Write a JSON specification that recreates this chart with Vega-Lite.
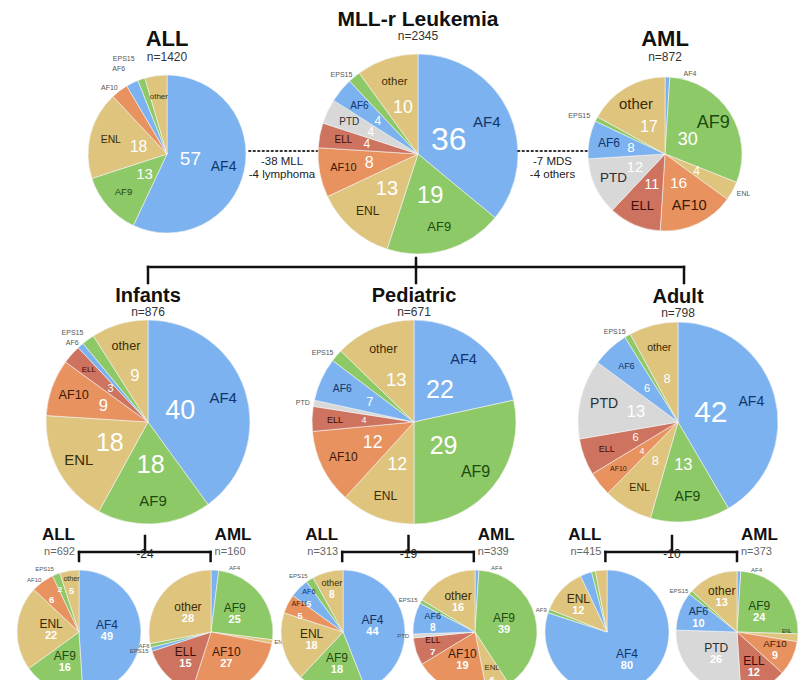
{
"$schema": "https://vega.github.io/schema/vega-lite/v6.json",
"padding": {"top": 8, "left": 0, "right": 0, "bottom": 0},
"config": {"view": {"stroke": null}, "font": "Liberation Sans", "title": {"fontWeight": "bold", "color": "#111111", "subtitleColor": "#333333", "subtitleFontSize": 12, "subtitlePadding": 1, "anchor": "middle", "frame": "group", "font": "Liberation Sans", "subtitleFont": "Liberation Sans"}},
"datasets": {
"segs": [{"seg":"AF4","k":1},{"seg":"AF9","k":2},{"seg":"ENL","k":3},{"seg":"AF10","k":4},{"seg":"ELL","k":5},{"seg":"PTD","k":6},{"seg":"AF6","k":7},{"seg":"EPS15","k":8},{"seg":"other","k":9}],
"bottomTitles": [{"pie":"Infants ALL","t":"ALL","n":"n=692"},{"pie":"Infants AML","t":"AML","n":"n=160"},{"pie":"Pediatric ALL","t":"ALL","n":"n=313"},{"pie":"Pediatric AML","t":"AML","n":"n=339"},{"pie":"Adult ALL","t":"ALL","n":"n=415"},{"pie":"Adult AML","t":"AML","n":"n=373"}],
"brackets": [{"grp":"Infants","from":"Infants ALL","to":"Infants AML","d":"-24"},{"grp":"Pediatric","from":"Pediatric ALL","to":"Pediatric AML","d":"-19"},{"grp":"Adult","from":"Adult ALL","to":"Adult AML","d":"-10"}],
"pies": [
{"pie":"ALL","seg":"AF4","v":57,"num":"57","lab":"AF4"},
{"pie":"ALL","seg":"AF9","v":13,"num":"13","lab":"AF9"},
{"pie":"ALL","seg":"ENL","v":18,"num":"18","lab":"ENL"},
{"pie":"ALL","seg":"AF10","v":3.5,"ext":"AF10"},
{"pie":"ALL","seg":"AF6","v":2.5,"ext":"AF6"},
{"pie":"ALL","seg":"EPS15","v":1.5,"ext":"EPS15"},
{"pie":"ALL","seg":"other","v":4.5,"lab":"other"},
{"pie":"MLL","seg":"AF4","v":36,"num":"36","lab":"AF4"},
{"pie":"MLL","seg":"AF9","v":19,"num":"19","lab":"AF9"},
{"pie":"MLL","seg":"ENL","v":13,"num":"13","lab":"ENL"},
{"pie":"MLL","seg":"AF10","v":8,"num":"8","lab":"AF10"},
{"pie":"MLL","seg":"ELL","v":4,"num":"4","lab":"ELL"},
{"pie":"MLL","seg":"PTD","v":4,"num":"4","lab":"PTD"},
{"pie":"MLL","seg":"AF6","v":4,"num":"4","lab":"AF6"},
{"pie":"MLL","seg":"EPS15","v":2,"ext":"EPS15"},
{"pie":"MLL","seg":"other","v":10,"num":"10","lab":"other"},
{"pie":"AML","seg":"AF4","v":1,"ext":"AF4"},
{"pie":"AML","seg":"AF9","v":30,"num":"30","lab":"AF9"},
{"pie":"AML","seg":"ENL","v":4,"num":"4","ext":"ENL"},
{"pie":"AML","seg":"AF10","v":16,"num":"16","lab":"AF10"},
{"pie":"AML","seg":"ELL","v":11,"num":"11","lab":"ELL"},
{"pie":"AML","seg":"PTD","v":12,"num":"12","lab":"PTD"},
{"pie":"AML","seg":"AF6","v":8,"num":"8","lab":"AF6"},
{"pie":"AML","seg":"EPS15","v":1,"ext":"EPS15"},
{"pie":"AML","seg":"other","v":17,"num":"17","lab":"other"},
{"pie":"Infants","seg":"AF4","v":40,"num":"40","lab":"AF4"},
{"pie":"Infants","seg":"AF9","v":18,"num":"18","lab":"AF9"},
{"pie":"Infants","seg":"ENL","v":18,"num":"18","lab":"ENL"},
{"pie":"Infants","seg":"AF10","v":9,"num":"9","lab":"AF10"},
{"pie":"Infants","seg":"ELL","v":3,"num":"3","lab":"ELL"},
{"pie":"Infants","seg":"AF6","v":1,"ext":"AF6"},
{"pie":"Infants","seg":"EPS15","v":2,"ext":"EPS15"},
{"pie":"Infants","seg":"other","v":9,"num":"9","lab":"other"},
{"pie":"Pediatric","seg":"AF4","v":22,"num":"22","lab":"AF4"},
{"pie":"Pediatric","seg":"AF9","v":29,"num":"29","lab":"AF9"},
{"pie":"Pediatric","seg":"ENL","v":12,"num":"12","lab":"ENL"},
{"pie":"Pediatric","seg":"AF10","v":12,"num":"12","lab":"AF10"},
{"pie":"Pediatric","seg":"ELL","v":4,"num":"4","lab":"ELL"},
{"pie":"Pediatric","seg":"PTD","v":1,"ext":"PTD"},
{"pie":"Pediatric","seg":"AF6","v":7,"num":"7","lab":"AF6"},
{"pie":"Pediatric","seg":"EPS15","v":2,"ext":"EPS15"},
{"pie":"Pediatric","seg":"other","v":13,"num":"13","lab":"other"},
{"pie":"Adult","seg":"AF4","v":42,"num":"42","lab":"AF4"},
{"pie":"Adult","seg":"AF9","v":13,"num":"13","lab":"AF9"},
{"pie":"Adult","seg":"ENL","v":8,"num":"8","lab":"ENL"},
{"pie":"Adult","seg":"AF10","v":4,"num":"4","lab":"AF10"},
{"pie":"Adult","seg":"ELL","v":6,"num":"6","lab":"ELL"},
{"pie":"Adult","seg":"PTD","v":13,"num":"13","lab":"PTD"},
{"pie":"Adult","seg":"AF6","v":6,"num":"6","lab":"AF6"},
{"pie":"Adult","seg":"EPS15","v":1,"ext":"EPS15"},
{"pie":"Adult","seg":"other","v":8,"num":"8","lab":"other"},
{"pie":"Infants ALL","seg":"AF4","v":49,"num":"49","lab":"AF4"},
{"pie":"Infants ALL","seg":"AF9","v":16,"num":"16","lab":"AF9"},
{"pie":"Infants ALL","seg":"ENL","v":22,"num":"22","lab":"ENL"},
{"pie":"Infants ALL","seg":"AF10","v":6,"num":"6","ext":"AF10"},
{"pie":"Infants ALL","seg":"EPS15","v":2,"num":"2","ext":"EPS15"},
{"pie":"Infants ALL","seg":"other","v":5,"num":"5","lab":"other"},
{"pie":"Infants AML","seg":"AF4","v":2,"ext":"AF4"},
{"pie":"Infants AML","seg":"AF9","v":25,"num":"25","lab":"AF9"},
{"pie":"Infants AML","seg":"ENL","v":1,"ext":"ENL"},
{"pie":"Infants AML","seg":"AF10","v":27,"num":"27","lab":"AF10"},
{"pie":"Infants AML","seg":"ELL","v":15,"num":"15","lab":"ELL"},
{"pie":"Infants AML","seg":"AF6","v":1,"ext":"AF6"},
{"pie":"Infants AML","seg":"EPS15","v":1,"ext":"EPS15"},
{"pie":"Infants AML","seg":"other","v":28,"num":"28","lab":"other"},
{"pie":"Pediatric ALL","seg":"AF4","v":44,"num":"44","lab":"AF4"},
{"pie":"Pediatric ALL","seg":"AF9","v":18,"num":"18","lab":"AF9"},
{"pie":"Pediatric ALL","seg":"ENL","v":18,"num":"18","lab":"ENL"},
{"pie":"Pediatric ALL","seg":"AF10","v":5,"num":"5","lab":"AF10"},
{"pie":"Pediatric ALL","seg":"AF6","v":5,"num":"5","lab":"AF6"},
{"pie":"Pediatric ALL","seg":"EPS15","v":2,"ext":"EPS15"},
{"pie":"Pediatric ALL","seg":"other","v":8,"num":"8","lab":"other"},
{"pie":"Pediatric AML","seg":"AF4","v":1,"ext":"AF4"},
{"pie":"Pediatric AML","seg":"AF9","v":39,"num":"39","lab":"AF9"},
{"pie":"Pediatric AML","seg":"ENL","v":6,"num":"6","lab":"ENL"},
{"pie":"Pediatric AML","seg":"AF10","v":19,"num":"19","lab":"AF10"},
{"pie":"Pediatric AML","seg":"ELL","v":7,"num":"7","lab":"ELL"},
{"pie":"Pediatric AML","seg":"PTD","v":1,"ext":"PTD"},
{"pie":"Pediatric AML","seg":"AF6","v":8,"num":"8","lab":"AF6"},
{"pie":"Pediatric AML","seg":"EPS15","v":1,"ext":"EPS15"},
{"pie":"Pediatric AML","seg":"other","v":16,"num":"16","lab":"other"},
{"pie":"Adult ALL","seg":"AF4","v":80,"num":"80","lab":"AF4"},
{"pie":"Adult ALL","seg":"AF9","v":1,"ext":"AF9"},
{"pie":"Adult ALL","seg":"ENL","v":12,"num":"12","lab":"ENL"},
{"pie":"Adult ALL","seg":"AF6","v":3},
{"pie":"Adult ALL","seg":"EPS15","v":1},
{"pie":"Adult ALL","seg":"other","v":3},
{"pie":"Adult AML","seg":"AF4","v":1,"ext":"AF4"},
{"pie":"Adult AML","seg":"AF9","v":24,"num":"24","lab":"AF9"},
{"pie":"Adult AML","seg":"ENL","v":2,"lab":"ENL"},
{"pie":"Adult AML","seg":"AF10","v":9,"num":"9","lab":"AF10"},
{"pie":"Adult AML","seg":"ELL","v":12,"num":"12","lab":"ELL"},
{"pie":"Adult AML","seg":"PTD","v":26,"num":"26","lab":"PTD"},
{"pie":"Adult AML","seg":"AF6","v":10,"num":"10","lab":"AF6"},
{"pie":"Adult AML","seg":"EPS15","v":1,"ext":"EPS15"},
{"pie":"Adult AML","seg":"other","v":13,"num":"13","lab":"other"}
]
},
"spacing": 0,
"vconcat": [
{"hconcat": [
 {"width": 88, "height": 200, "data": {"values": []}, "mark": "text", "encoding": {}},
 {"width": 158, "height": 200,
  "title": {"text": "ALL", "subtitle": "n=1420", "fontSize": 22, "offset": -10},
  "data": {"name": "pies"},
  "transform": [{"filter": {"field": "pie", "equal": "ALL"}}, {"lookup": "seg", "from": {"data": {"name": "segs"}, "key": "seg", "fields": ["k"]}}],
  "encoding": {"theta": {"field": "v", "type": "quantitative", "stack": true}, "order": {"field": "k", "type": "quantitative"}},
  "layer": [
   {"mark": {"type": "arc", "outerRadius": 79, "stroke": "#f4f4f4", "strokeWidth": 0.6}, "encoding": {"color": {"field": "seg", "type": "nominal", "scale": {"domain": ["AF4","AF9","ENL","AF10","ELL","PTD","AF6","EPS15","other"], "range": ["#7bb2ef","#8ec968","#dec47c","#e8935f","#cd735f","#d8d8d8","#7bb2ef","#8ec968","#dec47c"]}, "legend": null}}},
   {"mark": {"type": "text", "fill": "#ffffff"}, "encoding": {"text": {"condition": {"test": "isValid(datum.num)", "field": "num", "type": "nominal"}, "value": ""}, "radius": {"field": "v", "type": "quantitative", "scale": {"type": "linear", "zero": false, "clamp": true, "domain": [13, 57], "range": [30, 24]}}, "size": {"field": "v", "type": "quantitative", "scale": {"type": "sqrt", "zero": false, "clamp": true, "domain": [13, 57], "range": [15, 19]}, "legend": null}}},
   {"mark": {"type": "text", "radius": 58}, "encoding": {"text": {"condition": {"test": "isValid(datum.lab)", "field": "lab", "type": "nominal"}, "value": ""}, "color": {"field": "seg", "type": "nominal", "scale": {"domain": ["AF4","AF9","ENL","AF10","ELL","PTD","AF6","EPS15","other"], "range": ["#12356b","#1c4a0f","#3b2c08","#3d1906","#3d0d06","#2e2e2e","#12356b","#1c4a0f","#3b2c08"]}, "legend": null}, "size": {"field": "v", "type": "quantitative", "scale": {"type": "sqrt", "zero": false, "clamp": true, "domain": [4.5, 57], "range": [8, 14]}, "legend": null}}},
   {"mark": {"type": "text", "align": "right", "fontSize": 7, "fill": "#555555"}, "encoding": {"radius": {"field": "v", "type": "quantitative", "scale": {"type": "linear", "zero": false, "clamp": true, "domain": [1.5, 2.5, 3.5, 4.5], "range": [100, 95, 82, 10]}}, "text": {"condition": {"test": "indexof(['AF9','AF10','PTD','AF6','EPS15'], datum.ext) >= 0", "field": "ext", "type": "nominal"}, "value": ""}}}
  ],
  "resolve": {"scale": {"color": "independent", "size": "independent", "radius": "independent"}}
 },
 {"width": 72, "height": 200, "data": {"values": [{"note": "-38 MLL\n-4 lymphoma"}]},
  "layer": [
   {"mark": {"type": "rule", "strokeDash": [1.5, 3], "strokeWidth": 1.8, "strokeCap": "round", "color": "#333333"}, "encoding": {"y": {"datum": 103, "type": "quantitative", "scale": {"domain": [0, 200]}, "axis": null}}},
   {"mark": {"type": "text", "lineBreak": "\n", "baseline": "top", "fontSize": 11.5, "lineHeight": 13, "fill": "#222222"}, "encoding": {"text": {"field": "note", "type": "nominal"}, "y": {"datum": 98, "type": "quantitative", "scale": {"domain": [0, 200]}, "axis": null}}}
  ]
 },
 {"width": 200, "height": 200,
  "title": {"text": "MLL-r Leukemia", "subtitle": "n=2345", "fontSize": 21, "offset": 11},
  "data": {"name": "pies"},
  "transform": [{"filter": {"field": "pie", "equal": "MLL"}}, {"lookup": "seg", "from": {"data": {"name": "segs"}, "key": "seg", "fields": ["k"]}}],
  "encoding": {"theta": {"field": "v", "type": "quantitative", "stack": true}, "order": {"field": "k", "type": "quantitative"}},
  "layer": [
   {"mark": {"type": "arc", "outerRadius": 100, "stroke": "#f4f4f4", "strokeWidth": 0.6}, "encoding": {"color": {"field": "seg", "type": "nominal", "scale": {"domain": ["AF4","AF9","ENL","AF10","ELL","PTD","AF6","EPS15","other"], "range": ["#7bb2ef","#8ec968","#dec47c","#e8935f","#cd735f","#d8d8d8","#7bb2ef","#8ec968","#dec47c"]}, "legend": null}}},
   {"mark": {"type": "text", "fill": "#ffffff"}, "encoding": {"text": {"condition": {"test": "isValid(datum.num)", "field": "num", "type": "nominal"}, "value": ""}, "radius": {"field": "v", "type": "quantitative", "scale": {"type": "linear", "zero": false, "clamp": true, "domain": [4, 36], "range": [52, 34]}}, "size": {"field": "v", "type": "quantitative", "scale": {"type": "sqrt", "zero": false, "clamp": true, "domain": [4, 36], "range": [12, 32]}, "legend": null}}},
   {"mark": {"type": "text", "radius": 76}, "encoding": {"text": {"condition": {"test": "isValid(datum.lab)", "field": "lab", "type": "nominal"}, "value": ""}, "color": {"field": "seg", "type": "nominal", "scale": {"domain": ["AF4","AF9","ENL","AF10","ELL","PTD","AF6","EPS15","other"], "range": ["#12356b","#1c4a0f","#3b2c08","#3d1906","#3d0d06","#2e2e2e","#12356b","#1c4a0f","#3b2c08"]}, "legend": null}, "size": {"field": "v", "type": "quantitative", "scale": {"type": "sqrt", "zero": false, "clamp": true, "domain": [4, 36], "range": [10, 15]}, "legend": null}}},
   {"mark": {"type": "text", "align": "right", "fontSize": 7, "fill": "#555555"}, "encoding": {"radius": {"field": "v", "type": "quantitative", "scale": {"type": "linear", "zero": false, "clamp": true, "domain": [2, 4], "range": [103, 10]}}, "text": {"condition": {"test": "indexof(['AF9','AF10','PTD','AF6','EPS15'], datum.ext) >= 0", "field": "ext", "type": "nominal"}, "value": ""}}}
  ],
  "resolve": {"scale": {"color": "independent", "size": "independent", "radius": "independent"}}
 },
 {"width": 69, "height": 200, "data": {"values": [{"note": "-7 MDS\n-4 others"}]},
  "layer": [
   {"mark": {"type": "rule", "strokeDash": [1.5, 3], "strokeWidth": 1.8, "strokeCap": "round", "color": "#333333"}, "encoding": {"y": {"datum": 103, "type": "quantitative", "scale": {"domain": [0, 200]}, "axis": null}}},
   {"mark": {"type": "text", "lineBreak": "\n", "baseline": "top", "fontSize": 11.5, "lineHeight": 13, "fill": "#222222"}, "encoding": {"text": {"field": "note", "type": "nominal"}, "y": {"datum": 98, "type": "quantitative", "scale": {"domain": [0, 200]}, "axis": null}}}
  ]
 },
 {"width": 156, "height": 200,
  "title": {"text": "AML", "subtitle": "n=872", "fontSize": 22, "offset": -10},
  "data": {"name": "pies"},
  "transform": [{"filter": {"field": "pie", "equal": "AML"}}, {"lookup": "seg", "from": {"data": {"name": "segs"}, "key": "seg", "fields": ["k"]}}],
  "encoding": {"theta": {"field": "v", "type": "quantitative", "stack": true}, "order": {"field": "k", "type": "quantitative"}},
  "layer": [
   {"mark": {"type": "arc", "outerRadius": 77, "stroke": "#f4f4f4", "strokeWidth": 0.6}, "encoding": {"color": {"field": "seg", "type": "nominal", "scale": {"domain": ["AF4","AF9","ENL","AF10","ELL","PTD","AF6","EPS15","other"], "range": ["#7bb2ef","#8ec968","#dec47c","#e8935f","#cd735f","#d8d8d8","#7bb2ef","#8ec968","#dec47c"]}, "legend": null}}},
   {"mark": {"type": "text", "fill": "#ffffff"}, "encoding": {"text": {"condition": {"test": "isValid(datum.num)", "field": "num", "type": "nominal"}, "value": ""}, "radius": {"field": "v", "type": "quantitative", "scale": {"type": "linear", "zero": false, "clamp": true, "domain": [4, 30], "range": [36, 27]}}, "size": {"field": "v", "type": "quantitative", "scale": {"type": "sqrt", "zero": false, "clamp": true, "domain": [4, 30], "range": [12, 18]}, "legend": null}}},
   {"mark": {"type": "text", "radius": 57}, "encoding": {"text": {"condition": {"test": "isValid(datum.lab)", "field": "lab", "type": "nominal"}, "value": ""}, "color": {"field": "seg", "type": "nominal", "scale": {"domain": ["AF4","AF9","ENL","AF10","ELL","PTD","AF6","EPS15","other"], "range": ["#12356b","#1c4a0f","#3b2c08","#3d1906","#3d0d06","#2e2e2e","#12356b","#1c4a0f","#3b2c08"]}, "legend": null}, "size": {"field": "v", "type": "quantitative", "scale": {"type": "sqrt", "zero": false, "clamp": true, "domain": [8, 30], "range": [12, 18]}, "legend": null}}},
   {"mark": {"type": "text", "align": "right", "fontSize": 7, "fill": "#555555"}, "encoding": {"radius": {"field": "v", "type": "quantitative", "scale": {"type": "linear", "zero": false, "clamp": true, "domain": [4, 8], "range": [84, 10]}}, "text": {"condition": {"test": "indexof(['AF9','AF10','PTD','AF6','EPS15'], datum.ext) >= 0", "field": "ext", "type": "nominal"}, "value": ""}}},
   {"mark": {"type": "text", "align": "left", "fontSize": 7, "fill": "#555555"}, "encoding": {"radius": {"field": "v", "type": "quantitative", "scale": {"type": "linear", "zero": false, "clamp": true, "domain": [4, 8], "range": [82, 10]}}, "text": {"condition": {"test": "datum.ext == 'ENL'", "field": "ext", "type": "nominal"}, "value": ""}}},
   {"transform": [{"filter": "datum.seg == 'AF4' && isValid(datum.ext)"}], "mark": {"type": "text", "radius": 80, "align": "left", "dx": 16, "fontSize": 7, "fill": "#555555"}, "encoding": {"text": {"field": "ext", "type": "nominal"}}}
  ],
  "resolve": {"scale": {"color": "independent", "size": "independent", "radius": "independent"}}
 }
], "spacing": 0, "bounds": "flush"},
{"width": 803, "height": 25,
 "layer": [
  {"data": {"values": [{"grp": "Infants"}, {"grp": "Pediatric"}, {"grp": "Adult"}]}, "mark": {"type": "rule", "strokeWidth": 2.5, "color": "#111111", "strokeCap": "square"}, "encoding": {"x": {"field": "grp", "type": "nominal", "scale": {"type": "point", "padding": 0, "domain": ["Infants", "Pediatric", "Adult"], "range": [148, 684]}, "axis": null}, "y": {"datum": 16, "type": "quantitative", "scale": {"domain": [0, 25]}, "axis": null}, "y2": {"datum": 0}}},
  {"data": {"values": [{"from": "Infants", "to": "Adult"}]}, "mark": {"type": "rule", "strokeWidth": 2.5, "color": "#111111", "strokeCap": "square"}, "encoding": {"x": {"field": "from", "type": "nominal", "scale": {"type": "point", "padding": 0, "domain": ["Infants", "Pediatric", "Adult"], "range": [148, 684]}, "axis": null}, "x2": {"field": "to"}, "y": {"datum": 16, "type": "quantitative", "scale": {"domain": [0, 25]}, "axis": null}}},
  {"data": {"values": [{"grp": "Pediatric"}]}, "mark": {"type": "rule", "strokeWidth": 2.5, "color": "#111111", "strokeCap": "square"}, "encoding": {"x": {"field": "grp", "type": "nominal", "scale": {"type": "point", "padding": 0, "domain": ["Infants", "Pediatric", "Adult"], "range": [148, 684]}, "axis": null}, "y": {"datum": 25, "type": "quantitative", "scale": {"domain": [0, 25]}, "axis": null}, "y2": {"datum": 16}}}
 ]
},
{"hconcat": [
 {"width": 46, "height": 204, "data": {"values": []}, "mark": "text", "encoding": {}},
 {"width": 204, "height": 204,
  "title": {"text": "Infants", "subtitle": "n=876", "fontSize": 20, "offset": 1},
  "data": {"name": "pies"},
  "transform": [{"filter": {"field": "pie", "equal": "Infants"}}, {"lookup": "seg", "from": {"data": {"name": "segs"}, "key": "seg", "fields": ["k"]}}],
  "encoding": {"theta": {"field": "v", "type": "quantitative", "stack": true}, "order": {"field": "k", "type": "quantitative"}},
  "layer": [
   {"mark": {"type": "arc", "outerRadius": 102, "stroke": "#f4f4f4", "strokeWidth": 0.6}, "encoding": {"color": {"field": "seg", "type": "nominal", "scale": {"domain": ["AF4","AF9","ENL","AF10","ELL","PTD","AF6","EPS15","other"], "range": ["#7bb2ef","#8ec968","#dec47c","#e8935f","#cd735f","#d8d8d8","#7bb2ef","#8ec968","#dec47c"]}, "legend": null}}},
   {"mark": {"type": "text", "fill": "#ffffff"}, "encoding": {"text": {"condition": {"test": "isValid(datum.num)", "field": "num", "type": "nominal"}, "value": ""}, "radius": {"field": "v", "type": "quantitative", "scale": {"type": "linear", "zero": false, "clamp": true, "domain": [3, 40], "range": [50, 34]}}, "size": {"field": "v", "type": "quantitative", "scale": {"type": "linear", "zero": false, "clamp": true, "domain": [3, 20], "range": [11, 27]}, "legend": null}}},
   {"mark": {"type": "text", "radius": 79}, "encoding": {"text": {"condition": {"test": "isValid(datum.lab)", "field": "lab", "type": "nominal"}, "value": ""}, "color": {"field": "seg", "type": "nominal", "scale": {"domain": ["AF4","AF9","ENL","AF10","ELL","PTD","AF6","EPS15","other"], "range": ["#12356b","#1c4a0f","#3b2c08","#3d1906","#3d0d06","#2e2e2e","#12356b","#1c4a0f","#3b2c08"]}, "legend": null}, "size": {"field": "v", "type": "quantitative", "scale": {"type": "linear", "zero": false, "clamp": true, "domain": [3, 12], "range": [8, 15]}, "legend": null}}},
   {"mark": {"type": "text", "align": "right", "fontSize": 7, "fill": "#555555"}, "encoding": {"radius": {"field": "v", "type": "quantitative", "scale": {"type": "linear", "zero": false, "clamp": true, "domain": [1, 2, 3], "range": [105, 110, 10]}}, "text": {"condition": {"test": "indexof(['AF9','AF10','PTD','AF6','EPS15'], datum.ext) >= 0", "field": "ext", "type": "nominal"}, "value": ""}}}
  ],
  "resolve": {"scale": {"color": "independent", "size": "independent", "radius": "independent"}}
 },
 {"width": 62, "height": 204, "data": {"values": []}, "mark": "text", "encoding": {}},
 {"width": 204, "height": 204,
  "title": {"text": "Pediatric", "subtitle": "n=671", "fontSize": 20, "offset": 1},
  "data": {"name": "pies"},
  "transform": [{"filter": {"field": "pie", "equal": "Pediatric"}}, {"lookup": "seg", "from": {"data": {"name": "segs"}, "key": "seg", "fields": ["k"]}}],
  "encoding": {"theta": {"field": "v", "type": "quantitative", "stack": true}, "order": {"field": "k", "type": "quantitative"}},
  "layer": [
   {"mark": {"type": "arc", "outerRadius": 102, "stroke": "#f4f4f4", "strokeWidth": 0.6}, "encoding": {"color": {"field": "seg", "type": "nominal", "scale": {"domain": ["AF4","AF9","ENL","AF10","ELL","PTD","AF6","EPS15","other"], "range": ["#7bb2ef","#8ec968","#dec47c","#e8935f","#cd735f","#d8d8d8","#7bb2ef","#8ec968","#dec47c"]}, "legend": null}}},
   {"mark": {"type": "text", "fill": "#ffffff"}, "encoding": {"text": {"condition": {"test": "isValid(datum.num)", "field": "num", "type": "nominal"}, "value": ""}, "radius": {"field": "v", "type": "quantitative", "scale": {"type": "linear", "zero": false, "clamp": true, "domain": [4, 29], "range": [50, 38]}}, "size": {"field": "v", "type": "quantitative", "scale": {"type": "sqrt", "zero": false, "clamp": true, "domain": [4, 22], "range": [9, 25]}, "legend": null}}},
   {"mark": {"type": "text", "radius": 79}, "encoding": {"text": {"condition": {"test": "isValid(datum.lab)", "field": "lab", "type": "nominal"}, "value": ""}, "color": {"field": "seg", "type": "nominal", "scale": {"domain": ["AF4","AF9","ENL","AF10","ELL","PTD","AF6","EPS15","other"], "range": ["#12356b","#1c4a0f","#3b2c08","#3d1906","#3d0d06","#2e2e2e","#12356b","#1c4a0f","#3b2c08"]}, "legend": null}, "size": {"field": "v", "type": "quantitative", "scale": {"type": "sqrt", "zero": false, "clamp": true, "domain": [4, 29], "range": [9, 16]}, "legend": null}}},
   {"mark": {"type": "text", "align": "right", "fontSize": 7, "fill": "#555555"}, "encoding": {"radius": {"field": "v", "type": "quantitative", "scale": {"type": "linear", "zero": false, "clamp": true, "domain": [2, 4], "range": [106, 10]}}, "text": {"condition": {"test": "indexof(['AF9','AF10','PTD','AF6','EPS15'], datum.ext) >= 0", "field": "ext", "type": "nominal"}, "value": ""}}}
  ],
  "resolve": {"scale": {"color": "independent", "size": "independent", "radius": "independent"}}
 },
 {"width": 62, "height": 204, "data": {"values": []}, "mark": "text", "encoding": {}},
 {"width": 200, "height": 204,
  "title": {"text": "Adult", "subtitle": "n=798", "fontSize": 20, "offset": 1},
  "data": {"name": "pies"},
  "transform": [{"filter": {"field": "pie", "equal": "Adult"}}, {"lookup": "seg", "from": {"data": {"name": "segs"}, "key": "seg", "fields": ["k"]}}],
  "encoding": {"theta": {"field": "v", "type": "quantitative", "stack": true}, "order": {"field": "k", "type": "quantitative"}},
  "layer": [
   {"mark": {"type": "arc", "outerRadius": 100, "stroke": "#f4f4f4", "strokeWidth": 0.6}, "encoding": {"color": {"field": "seg", "type": "nominal", "scale": {"domain": ["AF4","AF9","ENL","AF10","ELL","PTD","AF6","EPS15","other"], "range": ["#7bb2ef","#8ec968","#dec47c","#e8935f","#cd735f","#d8d8d8","#7bb2ef","#8ec968","#dec47c"]}, "legend": null}}},
   {"mark": {"type": "text", "fill": "#ffffff"}, "encoding": {"text": {"condition": {"test": "isValid(datum.num)", "field": "num", "type": "nominal"}, "value": ""}, "radius": {"field": "v", "type": "quantitative", "scale": {"type": "linear", "zero": false, "clamp": true, "domain": [4, 42], "range": [46, 34]}}, "size": {"field": "v", "type": "quantitative", "scale": {"type": "sqrt", "zero": false, "clamp": true, "domain": [4, 42], "range": [9, 30]}, "legend": null}}},
   {"mark": {"type": "text", "radius": 76}, "encoding": {"text": {"condition": {"test": "isValid(datum.lab)", "field": "lab", "type": "nominal"}, "value": ""}, "color": {"field": "seg", "type": "nominal", "scale": {"domain": ["AF4","AF9","ENL","AF10","ELL","PTD","AF6","EPS15","other"], "range": ["#12356b","#1c4a0f","#3b2c08","#3d1906","#3d0d06","#2e2e2e","#12356b","#1c4a0f","#3b2c08"]}, "legend": null}, "size": {"field": "v", "type": "quantitative", "scale": {"type": "sqrt", "zero": false, "clamp": true, "domain": [4, 13], "range": [7, 14]}, "legend": null}}},
   {"mark": {"type": "text", "align": "right", "fontSize": 7, "fill": "#555555"}, "encoding": {"radius": {"field": "v", "type": "quantitative", "scale": {"type": "linear", "zero": false, "clamp": true, "domain": [1, 4], "range": [104, 10]}}, "text": {"condition": {"test": "indexof(['AF9','AF10','PTD','AF6','EPS15'], datum.ext) >= 0", "field": "ext", "type": "nominal"}, "value": ""}}}
  ],
  "resolve": {"scale": {"color": "independent", "size": "independent", "radius": "independent"}}
 }
], "spacing": 0, "bounds": "flush"},
{"width": 803, "height": 33,
 "layer": [
  {"data": {"name": "bottomTitles"}, "transform": [{"filter": "datum.t == 'ALL'"}], "mark": {"type": "text", "align": "right", "dx": -4, "fontSize": 17, "fontWeight": "bold", "fill": "#111111", "baseline": "alphabetic"}, "encoding": {"x": {"field": "pie", "type": "nominal", "scale": {"type": "point", "padding": 0, "domain": ["Infants ALL","Infants AML","Pediatric ALL","Pediatric AML","Adult ALL","Adult AML"], "range": [79, 737]}, "axis": null}, "y": {"datum": 21, "type": "quantitative", "scale": {"domain": [0, 33]}, "axis": null}, "text": {"field": "t", "type": "nominal"}}},
  {"data": {"name": "bottomTitles"}, "transform": [{"filter": "datum.t == 'ALL'"}], "mark": {"type": "text", "align": "right", "dx": -4, "fontSize": 11, "fill": "#666666", "baseline": "alphabetic"}, "encoding": {"x": {"field": "pie", "type": "nominal", "scale": {"type": "point", "padding": 0, "domain": ["Infants ALL","Infants AML","Pediatric ALL","Pediatric AML","Adult ALL","Adult AML"], "range": [79, 737]}, "axis": null}, "y": {"datum": 6, "type": "quantitative", "scale": {"domain": [0, 33]}, "axis": null}, "text": {"field": "n", "type": "nominal"}}},
  {"data": {"name": "bottomTitles"}, "transform": [{"filter": "datum.t == 'AML'"}], "mark": {"type": "text", "align": "left", "dx": 4, "fontSize": 17, "fontWeight": "bold", "fill": "#111111", "baseline": "alphabetic"}, "encoding": {"x": {"field": "pie", "type": "nominal", "scale": {"type": "point", "padding": 0, "domain": ["Infants ALL","Infants AML","Pediatric ALL","Pediatric AML","Adult ALL","Adult AML"], "range": [79, 737]}, "axis": null}, "y": {"datum": 21, "type": "quantitative", "scale": {"domain": [0, 33]}, "axis": null}, "text": {"field": "t", "type": "nominal"}}},
  {"data": {"name": "bottomTitles"}, "transform": [{"filter": "datum.t == 'AML'"}], "mark": {"type": "text", "align": "left", "dx": 4, "fontSize": 11, "fill": "#666666", "baseline": "alphabetic"}, "encoding": {"x": {"field": "pie", "type": "nominal", "scale": {"type": "point", "padding": 0, "domain": ["Infants ALL","Infants AML","Pediatric ALL","Pediatric AML","Adult ALL","Adult AML"], "range": [79, 737]}, "axis": null}, "y": {"datum": 6, "type": "quantitative", "scale": {"domain": [0, 33]}, "axis": null}, "text": {"field": "n", "type": "nominal"}}},
  {"data": {"name": "brackets"}, "mark": {"type": "rule", "strokeWidth": 2.5, "color": "#111111", "strokeCap": "square"}, "encoding": {"x": {"field": "from", "type": "nominal", "scale": {"type": "point", "padding": 0, "domain": ["Infants ALL","Infants AML","Pediatric ALL","Pediatric AML","Adult ALL","Adult AML"], "range": [79, 737]}, "axis": null}, "x2": {"field": "to"}, "y": {"datum": 9, "type": "quantitative", "scale": {"domain": [0, 33]}, "axis": null}}},
  {"data": {"name": "bottomTitles"}, "mark": {"type": "rule", "strokeWidth": 2.5, "color": "#111111", "strokeCap": "square"}, "encoding": {"x": {"field": "pie", "type": "nominal", "scale": {"type": "point", "padding": 0, "domain": ["Infants ALL","Infants AML","Pediatric ALL","Pediatric AML","Adult ALL","Adult AML"], "range": [79, 737]}, "axis": null}, "y": {"datum": 9, "type": "quantitative", "scale": {"domain": [0, 33]}, "axis": null}, "y2": {"datum": 0}}},
  {"data": {"name": "brackets"}, "mark": {"type": "rule", "strokeWidth": 2.5, "color": "#111111", "strokeCap": "square"}, "encoding": {"x": {"field": "grp", "type": "nominal", "scale": {"type": "point", "padding": 0, "domain": ["Infants", "Pediatric", "Adult"], "range": [145, 672]}, "axis": null}, "y": {"datum": 25, "type": "quantitative", "scale": {"domain": [0, 33]}, "axis": null}, "y2": {"datum": 9}}},
  {"data": {"name": "brackets"}, "mark": {"type": "text", "fontSize": 12, "fill": "#222222", "baseline": "bottom"}, "encoding": {"x": {"field": "grp", "type": "nominal", "scale": {"type": "point", "padding": 0, "domain": ["Infants", "Pediatric", "Adult"], "range": [145, 672]}, "axis": null}, "y": {"datum": 0, "type": "quantitative", "scale": {"domain": [0, 33]}, "axis": null}, "text": {"field": "d", "type": "nominal"}}}
 ],
 "resolve": {"scale": {"x": "independent"}}
},
{"hconcat": [
 {"width": 13, "height": 126, "data": {"values": []}, "mark": "text", "encoding": {}},
 {"width": 132, "height": 126, "data": {"name": "pies"},
  "transform": [{"filter": {"field": "pie", "equal": "Infants ALL"}}, {"lookup": "seg", "from": {"data": {"name": "segs"}, "key": "seg", "fields": ["k"]}}],
  "encoding": {"theta": {"field": "v", "type": "quantitative", "stack": true}, "order": {"field": "k", "type": "quantitative"}},
  "layer": [
   {"mark": {"type": "arc", "outerRadius": 62, "stroke": "#f4f4f4", "strokeWidth": 0.6}, "encoding": {"color": {"field": "seg", "type": "nominal", "scale": {"domain": ["AF4","AF9","ENL","AF10","ELL","PTD","AF6","EPS15","other"], "range": ["#7bb2ef","#8ec968","#dec47c","#e8935f","#cd735f","#d8d8d8","#7bb2ef","#8ec968","#dec47c"]}, "legend": null}}},
   {"mark": {"type": "text", "dy": -6}, "encoding": {"text": {"condition": {"test": "isValid(datum.lab)", "field": "lab", "type": "nominal"}, "value": ""}, "radius": {"field": "v", "type": "quantitative", "scale": {"type": "linear", "zero": false, "clamp": true, "domain": [2, 20], "range": [52, 28]}}, "color": {"field": "seg", "type": "nominal", "scale": {"domain": ["AF4","AF9","ENL","AF10","ELL","PTD","AF6","EPS15","other"], "range": ["#12356b","#1c4a0f","#3b2c08","#3d1906","#3d0d06","#2e2e2e","#12356b","#1c4a0f","#3b2c08"]}, "legend": null}, "size": {"field": "v", "type": "quantitative", "scale": {"type": "linear", "zero": false, "clamp": true, "domain": [2, 12], "range": [5, 12]}, "legend": null}}},
   {"mark": {"type": "text", "dy": 6, "fill": "#ffffff", "fontWeight": "bold"}, "encoding": {"text": {"condition": {"test": "isValid(datum.num)", "field": "num", "type": "nominal"}, "value": ""}, "radius": {"field": "v", "type": "quantitative", "scale": {"type": "linear", "zero": false, "clamp": true, "domain": [2, 20], "range": [52, 28]}}, "size": {"field": "v", "type": "quantitative", "scale": {"type": "linear", "zero": false, "clamp": true, "domain": [2, 10], "range": [8, 11]}, "legend": null}}},
   {"mark": {"type": "text", "align": "right", "fontSize": 6, "fill": "#555555"}, "encoding": {"radius": {"field": "v", "type": "quantitative", "scale": {"type": "linear", "zero": false, "clamp": true, "domain": [2, 4, 5, 5.5, 6, 7], "range": [68, 40, 10, 40, 64, 10]}}, "text": {"condition": {"test": "indexof(['AF9','AF10','PTD','AF6','EPS15'], datum.ext) >= 0", "field": "ext", "type": "nominal"}, "value": ""}}}
  ],
  "resolve": {"scale": {"color": "independent", "size": "independent", "radius": "independent"}}
 },
 {"width": 132, "height": 126, "data": {"name": "pies"},
  "transform": [{"filter": {"field": "pie", "equal": "Infants AML"}}, {"lookup": "seg", "from": {"data": {"name": "segs"}, "key": "seg", "fields": ["k"]}}],
  "encoding": {"theta": {"field": "v", "type": "quantitative", "stack": true}, "order": {"field": "k", "type": "quantitative"}},
  "layer": [
   {"mark": {"type": "arc", "outerRadius": 62, "stroke": "#f4f4f4", "strokeWidth": 0.6}, "encoding": {"color": {"field": "seg", "type": "nominal", "scale": {"domain": ["AF4","AF9","ENL","AF10","ELL","PTD","AF6","EPS15","other"], "range": ["#7bb2ef","#8ec968","#dec47c","#e8935f","#cd735f","#d8d8d8","#7bb2ef","#8ec968","#dec47c"]}, "legend": null}}},
   {"mark": {"type": "text", "dy": -6}, "encoding": {"text": {"condition": {"test": "isValid(datum.lab)", "field": "lab", "type": "nominal"}, "value": ""}, "radius": {"field": "v", "type": "quantitative", "scale": {"type": "linear", "zero": false, "clamp": true, "domain": [2, 20], "range": [52, 30]}}, "color": {"field": "seg", "type": "nominal", "scale": {"domain": ["AF4","AF9","ENL","AF10","ELL","PTD","AF6","EPS15","other"], "range": ["#12356b","#1c4a0f","#3b2c08","#3d1906","#3d0d06","#2e2e2e","#12356b","#1c4a0f","#3b2c08"]}, "legend": null}, "size": {"field": "v", "type": "quantitative", "scale": {"type": "linear", "zero": false, "clamp": true, "domain": [2, 12], "range": [5, 12]}, "legend": null}}},
   {"mark": {"type": "text", "dy": 6, "fill": "#ffffff", "fontWeight": "bold"}, "encoding": {"text": {"condition": {"test": "isValid(datum.num)", "field": "num", "type": "nominal"}, "value": ""}, "radius": {"field": "v", "type": "quantitative", "scale": {"type": "linear", "zero": false, "clamp": true, "domain": [2, 20], "range": [52, 30]}}, "size": {"field": "v", "type": "quantitative", "scale": {"type": "linear", "zero": false, "clamp": true, "domain": [2, 10], "range": [8, 11]}, "legend": null}}},
   {"mark": {"type": "text", "align": "right", "dy": -4, "fontSize": 6, "fill": "#555555"}, "encoding": {"radius": {"field": "v", "type": "quantitative", "scale": {"type": "linear", "zero": false, "clamp": true, "domain": [1, 2], "range": [64, 10]}}, "text": {"condition": {"test": "indexof(['AF9','AF10','PTD','AF6'], datum.ext) >= 0", "field": "ext", "type": "nominal"}, "value": ""}}},
   {"mark": {"type": "text", "align": "right", "dy": 5, "fontSize": 6, "fill": "#555555"}, "encoding": {"radius": {"field": "v", "type": "quantitative", "scale": {"type": "linear", "zero": false, "clamp": true, "domain": [1, 2], "range": [64, 10]}}, "text": {"condition": {"test": "datum.ext == 'EPS15'", "field": "ext", "type": "nominal"}, "value": ""}}},
   {"mark": {"type": "text", "align": "left", "fontSize": 6, "fill": "#555555"}, "encoding": {"radius": {"field": "v", "type": "quantitative", "scale": {"type": "linear", "zero": false, "clamp": true, "domain": [1, 2], "range": [64, 10]}}, "text": {"condition": {"test": "datum.ext == 'ENL'", "field": "ext", "type": "nominal"}, "value": ""}}},
   {"transform": [{"filter": "datum.seg == 'AF4' && isValid(datum.ext)"}], "mark": {"type": "text", "radius": 64, "align": "left", "dx": 14, "fontSize": 6, "fill": "#555555"}, "encoding": {"text": {"field": "ext", "type": "nominal"}}}
  ],
  "resolve": {"scale": {"color": "independent", "size": "independent", "radius": "independent"}}
 },
 {"width": 132, "height": 126, "data": {"name": "pies"},
  "transform": [{"filter": {"field": "pie", "equal": "Pediatric ALL"}}, {"lookup": "seg", "from": {"data": {"name": "segs"}, "key": "seg", "fields": ["k"]}}],
  "encoding": {"theta": {"field": "v", "type": "quantitative", "stack": true}, "order": {"field": "k", "type": "quantitative"}},
  "layer": [
   {"mark": {"type": "arc", "outerRadius": 62, "stroke": "#f4f4f4", "strokeWidth": 0.6}, "encoding": {"color": {"field": "seg", "type": "nominal", "scale": {"domain": ["AF4","AF9","ENL","AF10","ELL","PTD","AF6","EPS15","other"], "range": ["#7bb2ef","#8ec968","#dec47c","#e8935f","#cd735f","#d8d8d8","#7bb2ef","#8ec968","#dec47c"]}, "legend": null}}},
   {"mark": {"type": "text", "dy": -6}, "encoding": {"text": {"condition": {"test": "isValid(datum.lab)", "field": "lab", "type": "nominal"}, "value": ""}, "radius": {"field": "v", "type": "quantitative", "scale": {"type": "linear", "zero": false, "clamp": true, "domain": [2, 20], "range": [52, 30]}}, "color": {"field": "seg", "type": "nominal", "scale": {"domain": ["AF4","AF9","ENL","AF10","ELL","PTD","AF6","EPS15","other"], "range": ["#12356b","#1c4a0f","#3b2c08","#3d1906","#3d0d06","#2e2e2e","#12356b","#1c4a0f","#3b2c08"]}, "legend": null}, "size": {"field": "v", "type": "quantitative", "scale": {"type": "linear", "zero": false, "clamp": true, "domain": [2, 12], "range": [5, 12]}, "legend": null}}},
   {"mark": {"type": "text", "dy": 6, "fill": "#ffffff", "fontWeight": "bold"}, "encoding": {"text": {"condition": {"test": "isValid(datum.num)", "field": "num", "type": "nominal"}, "value": ""}, "radius": {"field": "v", "type": "quantitative", "scale": {"type": "linear", "zero": false, "clamp": true, "domain": [2, 20], "range": [52, 30]}}, "size": {"field": "v", "type": "quantitative", "scale": {"type": "linear", "zero": false, "clamp": true, "domain": [2, 10], "range": [8, 11]}, "legend": null}}},
   {"mark": {"type": "text", "align": "right", "fontSize": 6, "fill": "#555555"}, "encoding": {"radius": {"field": "v", "type": "quantitative", "scale": {"type": "linear", "zero": false, "clamp": true, "domain": [2, 4], "range": [66, 10]}}, "text": {"condition": {"test": "indexof(['AF9','AF10','PTD','AF6','EPS15'], datum.ext) >= 0", "field": "ext", "type": "nominal"}, "value": ""}}}
  ],
  "resolve": {"scale": {"color": "independent", "size": "independent", "radius": "independent"}}
 },
 {"width": 132, "height": 126, "data": {"name": "pies"},
  "transform": [{"filter": {"field": "pie", "equal": "Pediatric AML"}}, {"lookup": "seg", "from": {"data": {"name": "segs"}, "key": "seg", "fields": ["k"]}}],
  "encoding": {"theta": {"field": "v", "type": "quantitative", "stack": true}, "order": {"field": "k", "type": "quantitative"}},
  "layer": [
   {"mark": {"type": "arc", "outerRadius": 62, "stroke": "#f4f4f4", "strokeWidth": 0.6}, "encoding": {"color": {"field": "seg", "type": "nominal", "scale": {"domain": ["AF4","AF9","ENL","AF10","ELL","PTD","AF6","EPS15","other"], "range": ["#7bb2ef","#8ec968","#dec47c","#e8935f","#cd735f","#d8d8d8","#7bb2ef","#8ec968","#dec47c"]}, "legend": null}}},
   {"mark": {"type": "text", "dy": -6}, "encoding": {"text": {"condition": {"test": "isValid(datum.lab)", "field": "lab", "type": "nominal"}, "value": ""}, "radius": {"field": "v", "type": "quantitative", "scale": {"type": "linear", "zero": false, "clamp": true, "domain": [2, 20], "range": [50, 30]}}, "color": {"field": "seg", "type": "nominal", "scale": {"domain": ["AF4","AF9","ENL","AF10","ELL","PTD","AF6","EPS15","other"], "range": ["#12356b","#1c4a0f","#3b2c08","#3d1906","#3d0d06","#2e2e2e","#12356b","#1c4a0f","#3b2c08"]}, "legend": null}, "size": {"field": "v", "type": "quantitative", "scale": {"type": "linear", "zero": false, "clamp": true, "domain": [2, 12], "range": [5, 12]}, "legend": null}}},
   {"mark": {"type": "text", "dy": 6, "fill": "#ffffff", "fontWeight": "bold"}, "encoding": {"text": {"condition": {"test": "isValid(datum.num)", "field": "num", "type": "nominal"}, "value": ""}, "radius": {"field": "v", "type": "quantitative", "scale": {"type": "linear", "zero": false, "clamp": true, "domain": [2, 20], "range": [50, 30]}}, "size": {"field": "v", "type": "quantitative", "scale": {"type": "linear", "zero": false, "clamp": true, "domain": [2, 10], "range": [8, 11]}, "legend": null}}},
   {"mark": {"type": "text", "align": "right", "fontSize": 6, "fill": "#555555"}, "encoding": {"radius": {"field": "v", "type": "quantitative", "scale": {"type": "linear", "zero": false, "clamp": true, "domain": [1, 3], "range": [66, 10]}}, "text": {"condition": {"test": "indexof(['AF9','AF10','PTD','AF6','EPS15'], datum.ext) >= 0", "field": "ext", "type": "nominal"}, "value": ""}}},
   {"transform": [{"filter": "datum.seg == 'AF4' && isValid(datum.ext)"}], "mark": {"type": "text", "radius": 64, "align": "left", "dx": 14, "fontSize": 6, "fill": "#555555"}, "encoding": {"text": {"field": "ext", "type": "nominal"}}}
  ],
  "resolve": {"scale": {"color": "independent", "size": "independent", "radius": "independent"}}
 },
 {"width": 132, "height": 126, "data": {"name": "pies"},
  "transform": [{"filter": {"field": "pie", "equal": "Adult ALL"}}, {"lookup": "seg", "from": {"data": {"name": "segs"}, "key": "seg", "fields": ["k"]}}],
  "encoding": {"theta": {"field": "v", "type": "quantitative", "stack": true}, "order": {"field": "k", "type": "quantitative"}},
  "layer": [
   {"mark": {"type": "arc", "outerRadius": 62, "stroke": "#f4f4f4", "strokeWidth": 0.6}, "encoding": {"color": {"field": "seg", "type": "nominal", "scale": {"domain": ["AF4","AF9","ENL","AF10","ELL","PTD","AF6","EPS15","other"], "range": ["#7bb2ef","#8ec968","#dec47c","#e8935f","#cd735f","#d8d8d8","#7bb2ef","#8ec968","#dec47c"]}, "legend": null}}},
   {"mark": {"type": "text", "dy": -6}, "encoding": {"text": {"condition": {"test": "isValid(datum.lab)", "field": "lab", "type": "nominal"}, "value": ""}, "radius": {"field": "v", "type": "quantitative", "scale": {"type": "linear", "zero": false, "clamp": true, "domain": [2, 20], "range": [46, 34]}}, "color": {"field": "seg", "type": "nominal", "scale": {"domain": ["AF4","AF9","ENL","AF10","ELL","PTD","AF6","EPS15","other"], "range": ["#12356b","#1c4a0f","#3b2c08","#3d1906","#3d0d06","#2e2e2e","#12356b","#1c4a0f","#3b2c08"]}, "legend": null}, "size": {"field": "v", "type": "quantitative", "scale": {"type": "linear", "zero": false, "clamp": true, "domain": [2, 12], "range": [5, 12]}, "legend": null}}},
   {"mark": {"type": "text", "dy": 6, "fill": "#ffffff", "fontWeight": "bold"}, "encoding": {"text": {"condition": {"test": "isValid(datum.num)", "field": "num", "type": "nominal"}, "value": ""}, "radius": {"field": "v", "type": "quantitative", "scale": {"type": "linear", "zero": false, "clamp": true, "domain": [2, 20], "range": [46, 34]}}, "size": {"field": "v", "type": "quantitative", "scale": {"type": "linear", "zero": false, "clamp": true, "domain": [2, 10], "range": [8, 11]}, "legend": null}}},
   {"mark": {"type": "text", "align": "right", "fontSize": 6, "fill": "#555555"}, "encoding": {"radius": {"field": "v", "type": "quantitative", "scale": {"type": "linear", "zero": false, "clamp": true, "domain": [1, 3], "range": [64, 10]}}, "text": {"condition": {"test": "indexof(['AF9','AF10','PTD','AF6','EPS15'], datum.ext) >= 0", "field": "ext", "type": "nominal"}, "value": ""}}}
  ],
  "resolve": {"scale": {"color": "independent", "size": "independent", "radius": "independent"}}
 },
 {"width": 128, "height": 126, "data": {"name": "pies"},
  "transform": [{"filter": {"field": "pie", "equal": "Adult AML"}}, {"lookup": "seg", "from": {"data": {"name": "segs"}, "key": "seg", "fields": ["k"]}}],
  "encoding": {"theta": {"field": "v", "type": "quantitative", "stack": true}, "order": {"field": "k", "type": "quantitative"}},
  "layer": [
   {"mark": {"type": "arc", "outerRadius": 61, "stroke": "#f4f4f4", "strokeWidth": 0.6}, "encoding": {"color": {"field": "seg", "type": "nominal", "scale": {"domain": ["AF4","AF9","ENL","AF10","ELL","PTD","AF6","EPS15","other"], "range": ["#7bb2ef","#8ec968","#dec47c","#e8935f","#cd735f","#d8d8d8","#7bb2ef","#8ec968","#dec47c"]}, "legend": null}}},
   {"mark": {"type": "text", "dy": -6}, "encoding": {"text": {"condition": {"test": "isValid(datum.lab)", "field": "lab", "type": "nominal"}, "value": ""}, "radius": {"field": "v", "type": "quantitative", "scale": {"type": "linear", "zero": false, "clamp": true, "domain": [2, 20], "range": [50, 30]}}, "color": {"field": "seg", "type": "nominal", "scale": {"domain": ["AF4","AF9","ENL","AF10","ELL","PTD","AF6","EPS15","other"], "range": ["#12356b","#1c4a0f","#3b2c08","#3d1906","#3d0d06","#2e2e2e","#12356b","#1c4a0f","#3b2c08"]}, "legend": null}, "size": {"field": "v", "type": "quantitative", "scale": {"type": "linear", "zero": false, "clamp": true, "domain": [2, 12], "range": [5, 12]}, "legend": null}}},
   {"mark": {"type": "text", "dy": 6, "fill": "#ffffff", "fontWeight": "bold"}, "encoding": {"text": {"condition": {"test": "isValid(datum.num)", "field": "num", "type": "nominal"}, "value": ""}, "radius": {"field": "v", "type": "quantitative", "scale": {"type": "linear", "zero": false, "clamp": true, "domain": [2, 20], "range": [50, 30]}}, "size": {"field": "v", "type": "quantitative", "scale": {"type": "linear", "zero": false, "clamp": true, "domain": [2, 10], "range": [8, 11]}, "legend": null}}},
   {"mark": {"type": "text", "align": "right", "fontSize": 6, "fill": "#555555"}, "encoding": {"radius": {"field": "v", "type": "quantitative", "scale": {"type": "linear", "zero": false, "clamp": true, "domain": [1, 2], "range": [64, 10]}}, "text": {"condition": {"test": "indexof(['AF9','AF10','PTD','AF6','EPS15'], datum.ext) >= 0", "field": "ext", "type": "nominal"}, "value": ""}}},
   {"transform": [{"filter": "datum.seg == 'AF4' && isValid(datum.ext)"}], "mark": {"type": "text", "radius": 62, "align": "left", "dx": 12, "fontSize": 6, "fill": "#555555"}, "encoding": {"text": {"field": "ext", "type": "nominal"}}}
  ],
  "resolve": {"scale": {"color": "independent", "size": "independent", "radius": "independent"}}
 }
], "spacing": 0, "bounds": "flush"}
]
}
